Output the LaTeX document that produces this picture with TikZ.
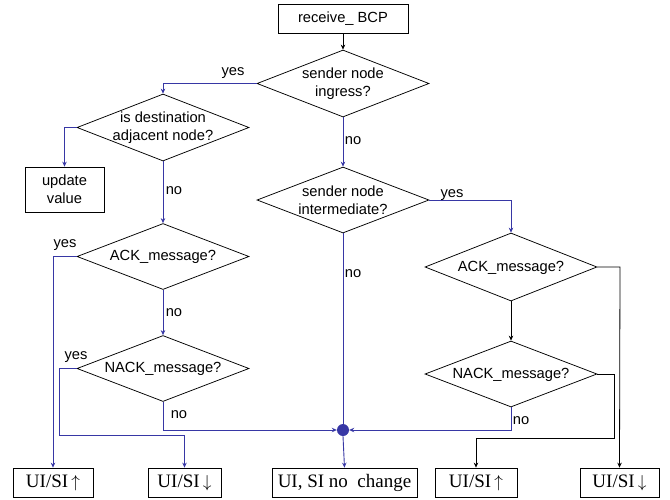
\documentclass[tikz,border=0pt]{standalone}
\usepackage{fontspec}
\setmainfont{Liberation Sans}
\newfontfamily\serifbox{Liberation Serif}
\usetikzlibrary{shapes.geometric,arrows.meta}
\definecolor{flowblue}{RGB}{55,55,165}
\newcommand{\uparr}{{\fontsize{16}{16}\selectfont$\uparrow$}}
\newcommand{\downarr}{{\fontsize{16}{16}\selectfont$\downarrow$}}
\tikzset{
  box/.style={draw=black, line width=0.75pt, rectangle, inner sep=0pt,
    font=\fontsize{14.7}{18}\selectfont, align=center},
  endbox/.style={draw=black, line width=0.75pt, rectangle, inner sep=0pt,
    minimum height=29pt, font=\serifbox\fontsize{19}{22}\selectfont},
  decision/.style={draw=black, line width=0.75pt, diamond, inner sep=0pt,
    minimum width=172pt, minimum height=67pt},
  dtext/.style={font=\fontsize{14.7}{18}\selectfont, align=center, inner sep=0pt},
  lbl/.style={font=\fontsize{14.7}{18}\selectfont, inner sep=0pt},
  tip/.style={-{Stealth[length=5pt,width=4.5pt]}},
  blueflow/.style={tip, draw=flowblue, line width=0.9pt},
  blueline/.style={draw=flowblue, line width=0.9pt},
  blackflow/.style={tip, draw=black, line width=0.8pt},
  joint/.style={circle, fill=flowblue, inner sep=0pt, minimum size=12pt},
}
\begin{document}
\begin{tikzpicture}[x=1pt,y=-1pt]
\useasboundingbox (0,0) rectangle (670,499);

% process boxes
\node[box, minimum width=130pt, minimum height=29pt] (recv) at (343,18.5) {receive\_ BCP};
\node[box, minimum width=79pt, minimum height=45pt] (upd) at (64.5,189.5) {update\\value};

% decisions, left column
\node[decision] (ingress) at (343,83.5) {};
\node[dtext] (ingressT) at (343,84) {sender node\\ingress?};
\node[decision] (adj) at (163,127.5) {};
\node[dtext] (adjT) at (163,128) {is destination\\adjacent node?};
\node[decision, minimum height=66pt] (ackL) at (163,256.5) {};
\node[dtext] (ackLT) at (163,257) {ACK\_message?};
\node[decision, minimum height=66pt] (nackL) at (163,368.5) {};
\node[dtext] (nackLT) at (163,369) {NACK\_message?};

% decisions, middle and right
\node[decision, minimum height=66pt] (inter) at (343,200) {};
\node[dtext] (interT) at (343,200.5) {sender node\\intermediate?};
\node[decision, minimum height=68pt] (ackR) at (511,267) {};
\node[dtext] (ackRT) at (511,268) {ACK\_message?};
\node[decision, minimum height=66pt] (nackR) at (511,374) {};
\node[dtext] (nackRT) at (511,375) {NACK\_message?};

% outcome boxes
\node[endbox, minimum width=80pt] (upL) at (53,482.5) {UI/SI\,\uparr};
\node[endbox, minimum width=73pt] (downL) at (184.5,482.5) {UI/SI\,\downarr};
\node[endbox, minimum width=145pt] (same) at (344.5,482.5) {UI, SI no\ \ change};
\node[endbox, minimum width=82pt] (upR) at (476,482.5) {UI/SI\,\uparr};
\node[endbox, minimum width=79pt] (downR) at (619.5,482.5) {UI/SI\,\downarr};

% merge point
\node[joint] (merge) at (343,430) {};

% connectors
\draw[blackflow] (recv.south) -- (ingress.north);
\draw[blueflow] (ingress.west) -| (adj.north);
\draw[blueflow] (adj.west) -| (upd.north);
\draw[blueflow] (adj.south) -- (ackL.north);
\draw[blueflow] (ackL.west) -| (upL.north);
\draw[blueflow] (ackL.south) -- (nackL.north);
\draw[blueflow] (nackL.west) -- (59,368.5) -- (59,435) -| (downL.north);
\draw[blueflow] (nackL.south) |- (merge.west);
\draw[blueflow] (ingress.south) -- (inter.north);
\draw[blueflow] (inter.east) -| (ackR.north);
\draw[blueline] (inter.south) -- (merge.north);
\draw[blueflow] (nackR.south) |- (merge.east);
\draw[blueflow] (merge.south) -- (same.north);
\draw[blackflow] (ackR.east) -- (620,267) -- (downR.north);
\draw[blackflow] (ackR.south) -- (nackR.north);
\draw[blackflow] (nackR.east) -- (614,374) -- (614,438) -| (upR.north);

% branch labels
\node[lbl] (y1) at (233,73) {yes};
\node[lbl] (n1) at (353,141) {no};
\node[lbl] (n2) at (174,191) {no};
\node[lbl] (y2) at (65,245) {yes};
\node[lbl] (n3) at (174,313) {no};
\node[lbl] (y3) at (76,357) {yes};
\node[lbl] (n4) at (179,415) {no};
\node[lbl] (y4) at (452,195) {yes};
\node[lbl] (n5) at (353,274) {no};
\node[lbl] (n6) at (521,421) {no};
\end{tikzpicture}
\end{document}
